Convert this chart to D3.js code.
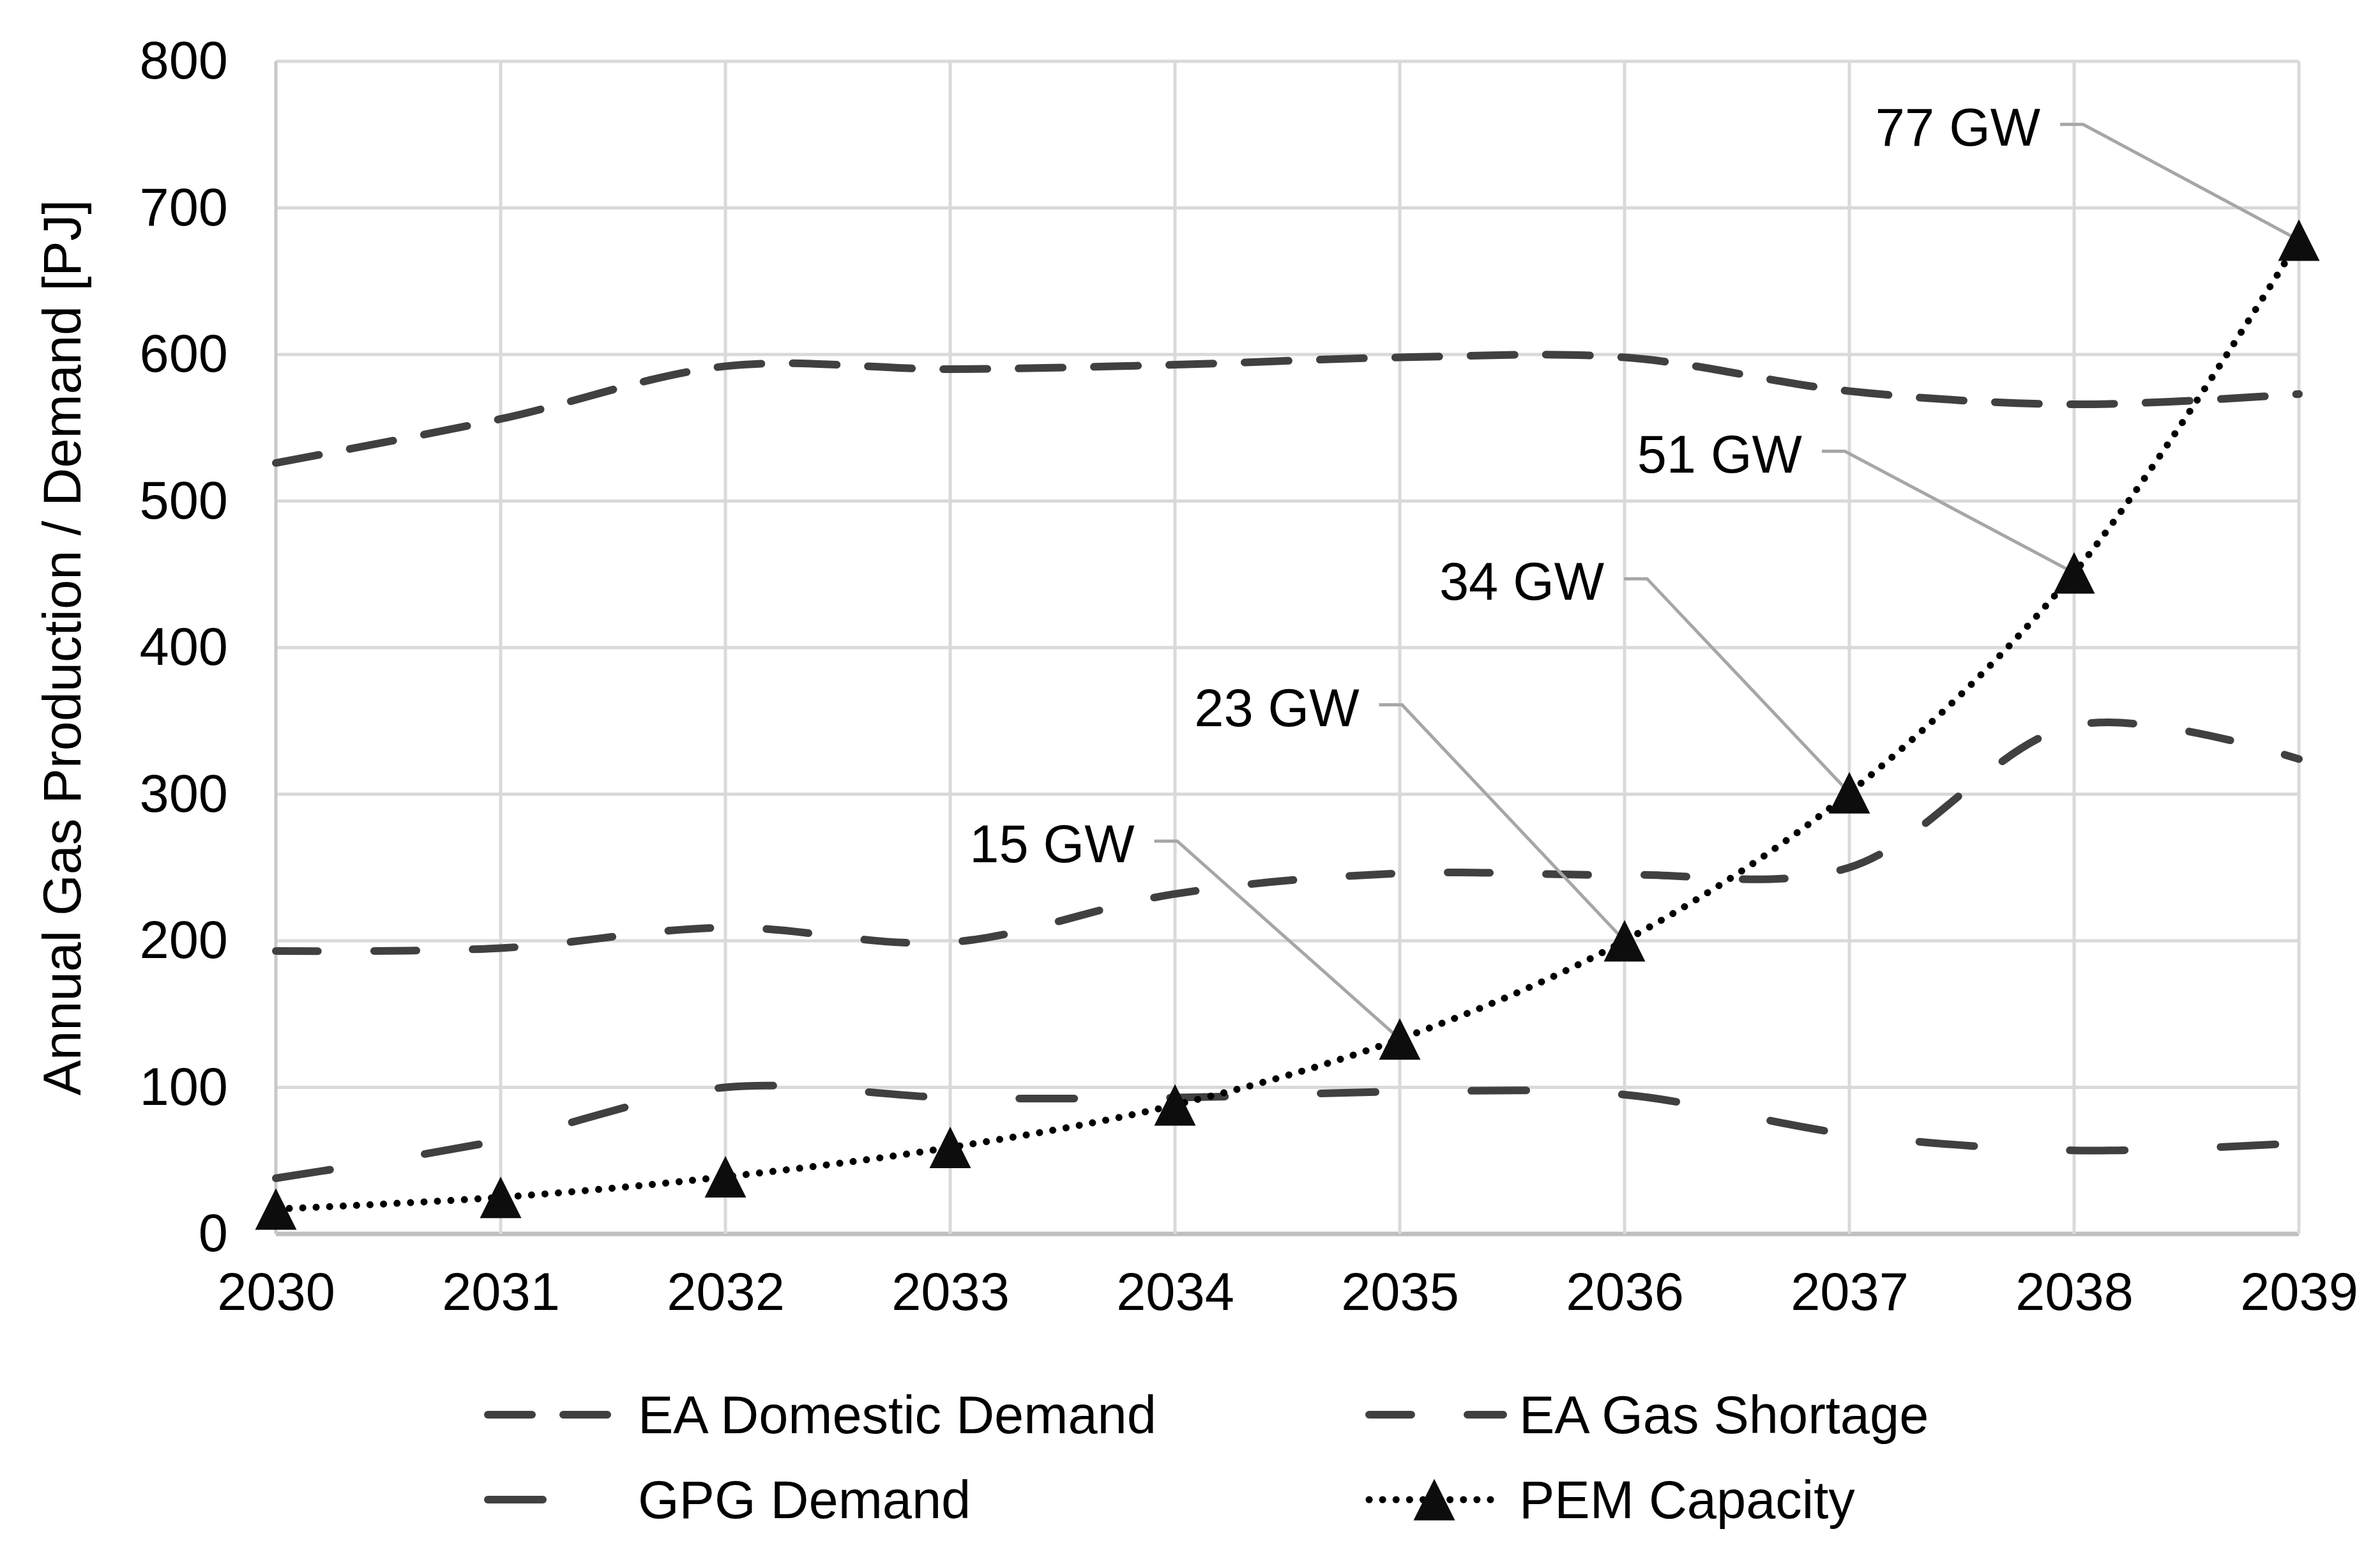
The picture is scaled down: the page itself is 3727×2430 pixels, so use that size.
<!DOCTYPE html>
<html>
<head>
<meta charset="utf-8">
<script src="https://cdn.jsdelivr.net/npm/d3@7"></script>
<style>
  body { margin: 0; background: white; }
  text { font-family: "Liberation Sans", Arial, sans-serif; fill: #000; }
</style>
</head>
<body>
<div id="chart"></div>
<script>
// setup
var w = 3727;
var h = 2430;

// data
var years = [2030, 2031, 2032, 2033, 2034, 2035, 2036, 2037, 2038, 2039];
var domesticDemand = [526, 556, 592, 590, 593, 598, 598, 575, 566, 573];
var gasShortage = [193, 195, 209, 199, 232, 246, 245, 250, 347, 324];
var gpgDemand = [38, 64, 100, 93, 93, 97, 95, 68, 57, 62];
var pemCapacity = [17, 25, 39, 59, 88, 133, 200, 301, 451, 678];
var yTicks = [0, 100, 200, 300, 400, 500, 600, 700, 800];
var gwLabels = ["15 GW", "23 GW", "34 GW", "51 GW", "77 GW"];
var gwYears = [2035, 2036, 2037, 2038, 2039];
var seriesNames = ["EA Domestic Demand", "EA Gas Shortage", "GPG Demand", "PEM Capacity"];

// where the callout labels sit (year, value of the knee of the leader)
var calloutKnee = [[2034.01, 268], [2035.01, 361], [2036.10, 447], [2036.98, 534], [2038.04, 757]];

var svg = d3.select("#chart")
    .append("svg")
    .attr("width", w)
    .attr("height", h)
    .style("background", "white");

var x = d3.scaleLinear().domain([2030, 2039]).range([432, 3600]);
var y = d3.scaleLinear().domain([0, 800]).range([1932, 96]);

var fontSize = 83;
var lineColor = "#404040";
var dotDash = "0.1 21";

// excel style triangle marker, centred on its box
var excelTriangle = {
    draw: function(context, size) {
        var s = Math.sqrt(size) / 2;
        context.moveTo(0, -s);
        context.lineTo(s, s);
        context.lineTo(-s, s);
        context.closePath();
    }
};
var tri = d3.symbol().type(excelTriangle).size(65 * 65);

// gridlines
var grid = svg.append("g");
grid.selectAll("line.h")
    .data(yTicks)
    .enter()
    .append("line")
        .attr("x1", x(2030))
        .attr("x2", x(2039))
        .attr("y1", function(d){ return y(d); })
        .attr("y2", function(d){ return y(d); })
        .attr("stroke", function(d){ return d == 0 ? "#bfbfbf" : "#d9d9d9"; })
        .attr("stroke-width", function(d){ return d == 0 ? 7 : 5; });
grid.selectAll("line.v")
    .data(years)
    .enter()
    .append("line")
        .attr("x1", function(d){ return x(d); })
        .attr("x2", function(d){ return x(d); })
        .attr("y1", y(0))
        .attr("y2", y(800))
        .attr("stroke", function(d){ return d == 2030 ? "#c8c8c8" : "#d9d9d9"; })
        .attr("stroke-width", 5);

// axes (text only, the lines are the grid)
var yAxis = d3.axisLeft(y).tickValues(yTicks).tickSize(0).tickPadding(75);
svg.append("g")
    .attr("transform", "translate(" + x(2030) + ",0)")
    .call(yAxis)
    .call(function(g){ g.select(".domain").remove(); })
    .selectAll("text")
        .attr("font-size", fontSize)
        .attr("font-family", "Liberation Sans, Arial, sans-serif")
        .attr("fill", "#000");

var xAxis = d3.axisBottom(x).tickValues(years).tickFormat(d3.format("d")).tickSize(0).tickPadding(60);
svg.append("g")
    .attr("transform", "translate(0," + y(0) + ")")
    .call(xAxis)
    .call(function(g){ g.select(".domain").remove(); })
    .selectAll("text")
        .attr("font-size", fontSize)
        .attr("font-family", "Liberation Sans, Arial, sans-serif")
        .attr("fill", "#000");

// y title
svg.append("text")
    .attr("transform", "translate(126," + (y(0) + y(800)) / 2 + ") rotate(-90)")
    .attr("text-anchor", "middle")
    .attr("font-size", fontSize)
    .text("Annual Gas Production / Demand [PJ]");

// lines
var line = d3.line()
    .x(function(d, i){ return x(years[i]); })
    .y(function(d){ return y(d); })
    .curve(d3.curveCatmullRom);

var dashed = [
    {values: domesticDemand, dash: "69 49"},
    {values: gasShortage, dash: "66 88"},
    {values: gpgDemand, dash: "86 150"}
];

svg.append("g")
    .selectAll("path")
    .data(dashed)
    .enter()
    .append("path")
        .attr("d", function(d){ return line(d.values); })
        .attr("fill", "none")
        .attr("stroke", lineColor)
        .attr("stroke-width", 12)
        .attr("stroke-linecap", "round")
        .attr("stroke-dasharray", function(d){ return d.dash; });

// callout leaders (drawn under the PEM markers)
var callouts = svg.append("g");
gwLabels.forEach(function(lab, i){
    var kx = x(calloutKnee[i][0]), ky = y(calloutKnee[i][1]);
    callouts.append("path")
        .attr("d", "M" + (kx - 36) + "," + ky + "L" + kx + "," + ky +
              "L" + x(gwYears[i]) + "," + y(pemCapacity[years.indexOf(gwYears[i])]))
        .attr("fill", "none")
        .attr("stroke", "#a6a6a6")
        .attr("stroke-width", 5);
    callouts.append("text")
        .attr("x", kx - 67)
        .attr("y", ky + 4)
        .attr("dy", "0.35em")
        .attr("text-anchor", "end")
        .attr("font-size", fontSize)
        .text(lab);
});

svg.append("path")
    .attr("d", line(pemCapacity))
    .attr("fill", "none")
    .attr("stroke", "#000")
    .attr("stroke-width", 11)
    .attr("stroke-linecap", "round")
    .attr("stroke-dasharray", dotDash);

svg.append("g")
    .selectAll("path")
    .data(pemCapacity)
    .enter()
    .append("path")
        .attr("d", tri)
        .attr("transform", function(d, i){ return "translate(" + x(years[i]) + "," + y(d) + ")"; })
        .attr("fill", "#0d0d0d");

// legend
var legendPos = [[758, 2215], [2138, 2215], [758, 2348], [2138, 2348]];
var legendDash = ["69 49", "66 88", "86 150", dotDash];
var sampleLen = 216;
var legend = svg.append("g");
seriesNames.forEach(function(name, i){
    var lx = legendPos[i][0], ly = legendPos[i][1];
    legend.append("line")
        .attr("x1", lx + 6)
        .attr("x2", lx + sampleLen)
        .attr("y1", ly)
        .attr("y2", ly)
        .attr("stroke", i == 3 ? "#000" : lineColor)
        .attr("stroke-width", i == 3 ? 11 : 12)
        .attr("stroke-linecap", "round")
        .attr("stroke-dasharray", legendDash[i]);
    if (i == 3) {
        legend.append("path")
            .attr("d", tri)
            .attr("transform", "translate(" + (lx + sampleLen / 2) + "," + ly + ")")
            .attr("fill", "#0d0d0d");
    }
    legend.append("text")
        .attr("x", lx + 241)
        .attr("y", ly)
        .attr("dy", "0.35em")
        .attr("font-size", fontSize)
        .text(name);
});
</script>
</body>
</html>
